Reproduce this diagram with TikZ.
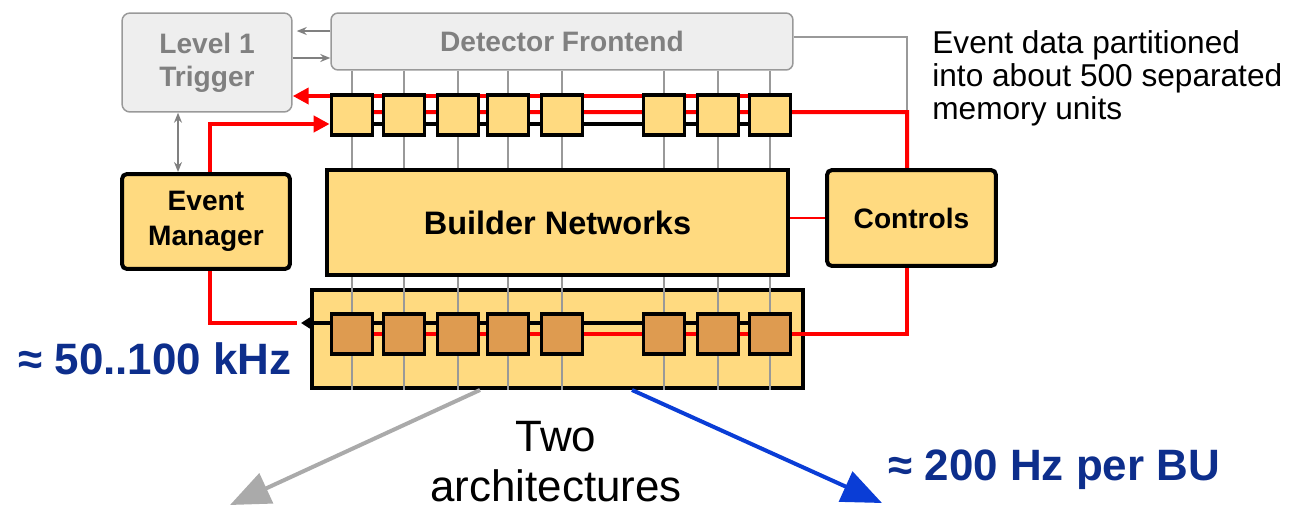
\documentclass[tikz,border=0pt]{standalone}
\usepackage{fontspec}
\setmainfont{Liberation Sans}
\usepackage{tikz}
\usetikzlibrary{arrows.meta}

\definecolor{boxy}{HTML}{FFDA80}
\definecolor{boxo}{HTML}{DE9B50}
\definecolor{navy}{HTML}{0D2E8C}
\definecolor{lgray}{HTML}{EEEEEE}
\definecolor{mgray}{HTML}{999999}
\definecolor{tgray}{HTML}{808080}
\definecolor{agray}{HTML}{AAAAAA}
\definecolor{ablue}{HTML}{0A3DD6}

\pgfdeclarelayer{back}
\pgfdeclarelayer{wires}
\pgfsetlayers{back,wires,main}

\begin{document}
\begin{tikzpicture}[x=0.02cm, y=-0.02cm,
  big/.style={draw, line width=0.08cm, fill=boxy, inner sep=0, align=center, font=\fontsize{16}{20}\selectfont\bfseries},
  grey/.style={draw=mgray, line width=0.03cm, fill=lgray, rounded corners=0.16cm, text=tgray, inner sep=0, align=center, font=\fontsize{16}{19}\selectfont\bfseries},
  topmem/.style={draw, line width=0.075cm, fill=boxy, minimum width=0.82cm, minimum height=0.8cm, inner sep=0},
  botmem/.style={topmem, fill=boxo},
  redw/.style={red, line width=0.08cm},
  blkw/.style={black, line width=0.07cm},
  vline/.style={mgray, line width=0.04cm},
  gw/.style={tgray, line width=0.03cm},
  rate/.style={anchor=west, inner sep=0, text=navy, font=\fontsize{25}{30}\selectfont\bfseries}]
  \useasboundingbox (0,0) rectangle (1311,514);

  % boxes
  \node [grey, minimum width=3.4cm, minimum height=1.98cm] (trig) at (207,62.5) {Level 1\\Trigger};
  \node [grey, rounded corners=0.14cm, minimum width=9.24cm, minimum height=1.14cm] (front) at (562,41.5) {Detector Frontend};
  \node [big, minimum width=9.22cm, minimum height=2.1cm, font=\fontsize{18.5}{22}\selectfont\bfseries] (bn) at (557.5,222.5) {Builder Networks};
  \node [big, rounded corners=0.1cm, minimum width=3.38cm, minimum height=1.92cm] (ctrl) at (911.5,218) {Controls};
  \node [big, rounded corners=0.1cm, minimum width=3.36cm, minimum height=1.9cm] (em) at (206,221.5) {Event\\Manager};
  \begin{pgfonlayer}{back}
  \node [draw, line width=0.08cm, fill=boxy, minimum width=9.82cm, minimum height=1.96cm] (frame) at (557.5,339) {};
  \end{pgfonlayer}

  % memory units
  \node [topmem] (t1) at (352,115) {};
  \node [topmem] (t2) at (404,115) {};
  \node [topmem] (t3) at (458,115) {};
  \node [topmem] (t4) at (508,115) {};
  \node [topmem] (t5) at (562,115) {};
  \node [topmem] (t6) at (664,115) {};
  \node [topmem] (t7) at (718,115) {};
  \node [topmem] (t8) at (770,115) {};
  \node [botmem] (b1) at (352,334) {};
  \node [botmem] (b2) at (404,334) {};
  \node [botmem] (b3) at (458,334) {};
  \node [botmem] (b4) at (508,334) {};
  \node [botmem] (b5) at (562,334) {};
  \node [botmem] (b6) at (664,334) {};
  \node [botmem] (b7) at (718,334) {};
  \node [botmem] (b8) at (770,334) {};

  % texts
  \node [anchor=north west, inner sep=0, align=left, font=\fontsize{18}{18.8}\selectfont] (note) at (932,30) {Event data partitioned\\into about 500 separated\\memory units};
  \node [rate] (rin) at (18,359) {≈ 50..100 kHz};
  \node [rate] (rout) at (888,470) {≈ 200 Hz per BU};
  \node [align=center, inner sep=0, font=\fontsize{25}{28.5}\selectfont] (two) at (556,462) {Two\\architectures};

  \coordinate (jn) at (907,112);
  \coordinate (jb) at (907,334);
  \coordinate (ja) at (301,323);
  \coordinate (gtip) at (230,505);
  \coordinate (btip) at (882,503);

  \begin{pgfonlayer}{wires}
  \draw [vline] (t1 |- front.south) -- (t1 |- bn.north);
  \draw [vline] (t2 |- front.south) -- (t2 |- bn.north);
  \draw [vline] (t3 |- front.south) -- (t3 |- bn.north);
  \draw [vline] (t4 |- front.south) -- (t4 |- bn.north);
  \draw [vline] (t5 |- front.south) -- (t5 |- bn.north);
  \draw [vline] (t6 |- front.south) -- (t6 |- bn.north);
  \draw [vline] (t7 |- front.south) -- (t7 |- bn.north);
  \draw [vline] (t8 |- front.south) -- (t8 |- bn.north);
  \draw [vline] (b1 |- bn.south) -- (b1 |- frame.south);
  \draw [vline] (b2 |- bn.south) -- (b2 |- frame.south);
  \draw [vline] (b3 |- bn.south) -- (b3 |- frame.south);
  \draw [vline] (b4 |- bn.south) -- (b4 |- frame.south);
  \draw [vline] (b5 |- bn.south) -- (b5 |- frame.south);
  \draw [vline] (b6 |- bn.south) -- (b6 |- frame.south);
  \draw [vline] (b7 |- bn.south) -- (b7 |- frame.south);
  \draw [vline] (b8 |- bn.south) -- (b8 |- frame.south);

  \draw [gw, -{Stealth[length=0.2cm, width=0.16cm]}, shorten >=0.08cm] ([yshift=0.21cm]front.west) -- ([yshift=0.21cm]front.west -| trig.east);
  \draw [gw, -{Stealth[length=0.2cm, width=0.16cm]}] ([yshift=-0.33cm]front.west -| trig.east) -- ([yshift=-0.33cm]front.west);
  \draw [gw, {Stealth[length=0.2cm, width=0.16cm]}-{Stealth[length=0.2cm, width=0.16cm]}] ([xshift=-0.58cm]trig.south) -- ([xshift=-0.58cm]trig.south |- em.north);
  \draw [mgray, line width=0.03cm] ([yshift=0.09cm]front.east) -| (jn);

  \draw [redw, -{Triangle[length=0.32cm, width=0.32cm]}] ([yshift=0.38cm]t8.center) -- ([yshift=0.38cm]t8.center -| trig.east);
  \draw [redw] ([yshift=0.06cm]t1.center) -- (jn) -- (jn |- ctrl.north);
  \draw [blkw] ([yshift=-0.18cm]t1.center) -- ([yshift=-0.18cm]t8.center);
  \draw [redw, -{Triangle[length=0.32cm, width=0.32cm]}] ([xshift=0.08cm]em.north) |- ([yshift=-0.18cm]t1.west);
  \draw [red, line width=0.045cm] (bn.east |- ctrl.west) -- (ctrl.west);
  \draw [redw] (jn |- ctrl.south) -- (jb) -- (b1.center);
  \draw [blkw, -{Triangle[length=0.2cm, width=0.24cm]}] (b8.center |- ja) -- (ja);
  \draw [redw] ([xshift=0.08cm]em.south) |- ([xshift=-0.08cm]ja);

  \draw [agray, line width=0.08cm, -{Triangle[length=0.8cm, width=0.65cm]}] ([xshift=-1.55cm]frame.south) -- (gtip);
  \draw [ablue, line width=0.08cm, -{Triangle[length=0.8cm, width=0.65cm]}] ([xshift=1.49cm]frame.south) -- (btip);
  \end{pgfonlayer}
\end{tikzpicture}
\end{document}
